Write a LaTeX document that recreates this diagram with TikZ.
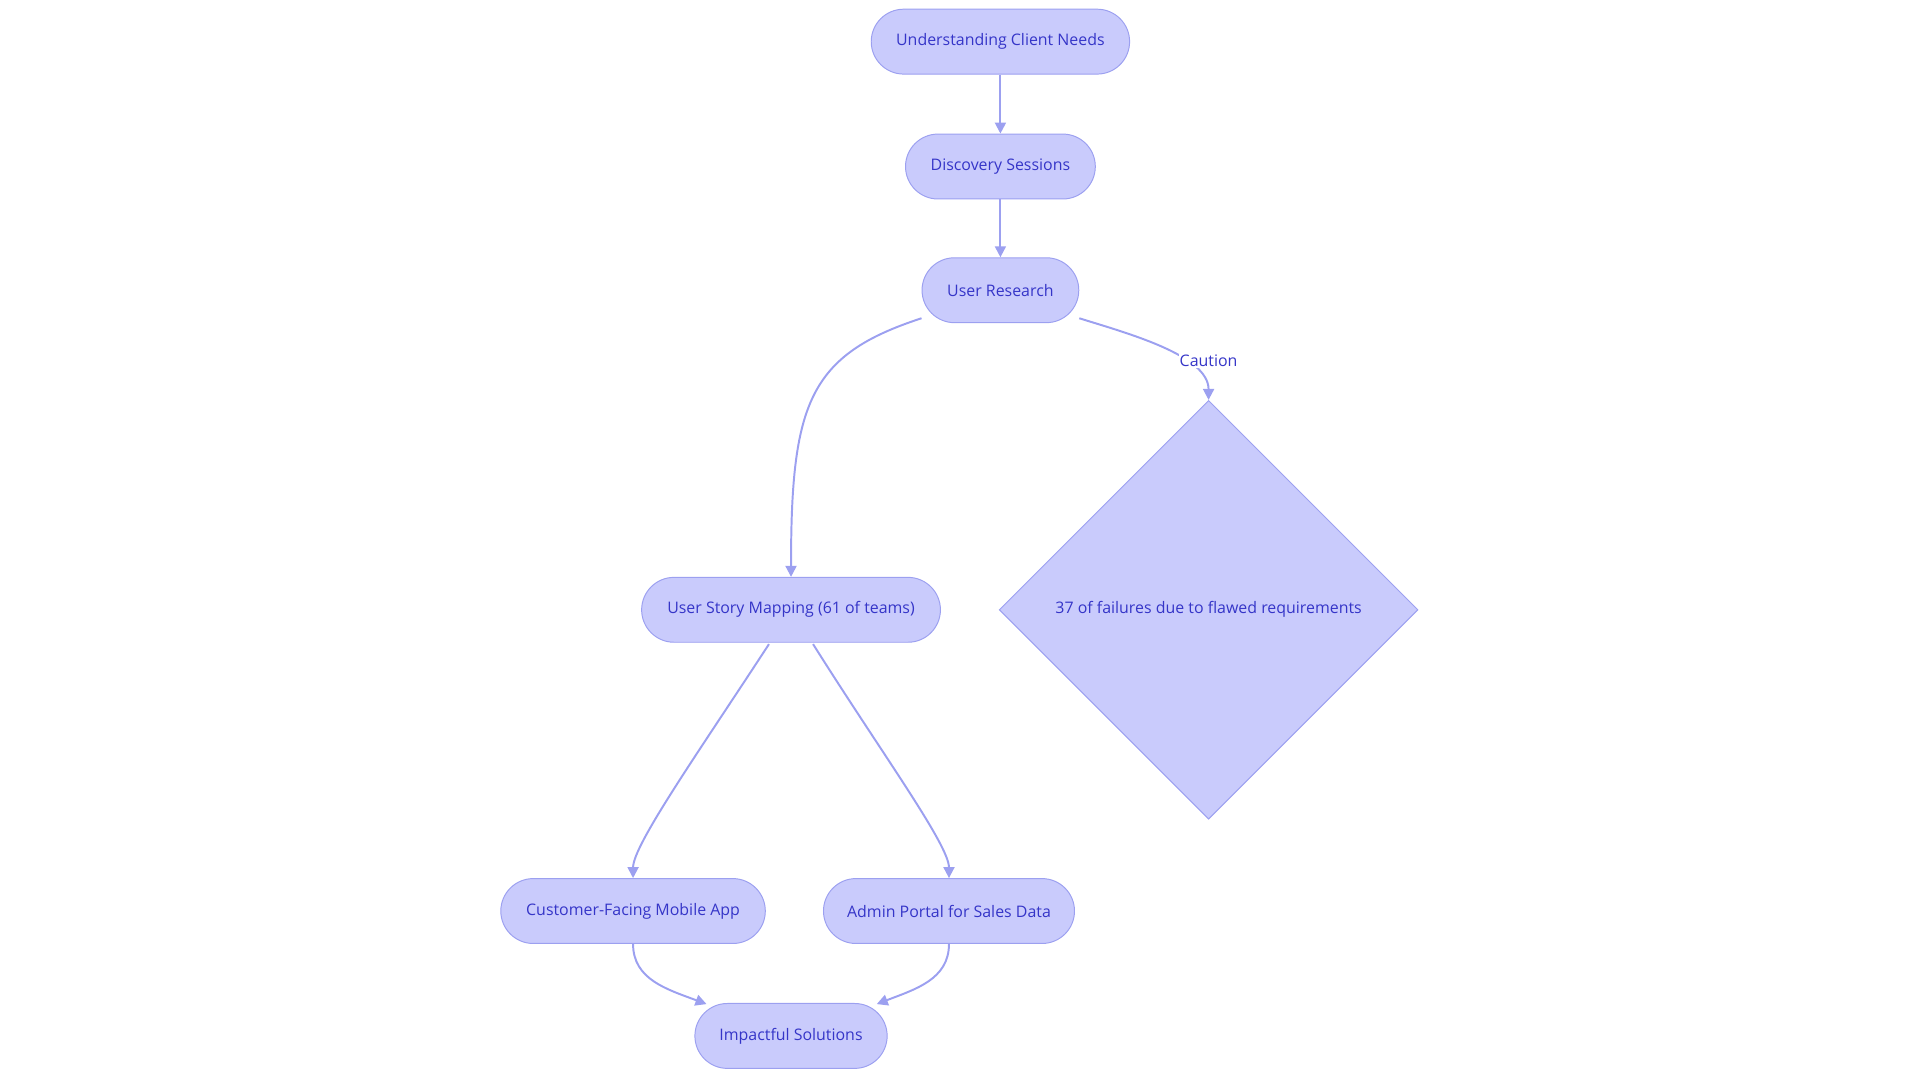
\documentclass[tikz,border=0pt]{standalone}
\usepackage{fontspec}
\setmainfont{Open Sans}
\usetikzlibrary{shapes.geometric,arrows.meta}
\definecolor{nfill}{HTML}{C9CBFC}
\definecolor{nline}{HTML}{9CA0F0}
\definecolor{ntext}{HTML}{3535C8}
\begin{document}
\begin{tikzpicture}[x=1pt,y=-1pt,
  box/.style={draw=nline,fill=nfill,line width=0.8pt,rounded corners=26.5pt,minimum height=53pt,inner sep=0pt,text=ntext,font=\fontsize{13}{15}\selectfont},
  dia/.style={draw=nline,fill=nfill,line width=0.8pt,diamond,minimum width=342pt,minimum height=342pt,inner sep=0pt,text=ntext,font=\fontsize{13}{15}\selectfont},
  edge/.style={draw=nline,line width=1.6pt,-{Triangle[length=9pt,width=9pt]}}]
\useasboundingbox (0,0) rectangle (1568,884.5);
\node[box,minimum width=211pt] (A) at (817,34) {Understanding Client Needs};
\node[box,minimum width=155pt] (B) at (817,136) {Discovery Sessions};
\node[box,minimum width=128pt] (C) at (817,237) {User Research};
\node[box,minimum width=244pt] (D) at (646,498) {User Story Mapping (61 of teams)};
\node[dia] (E) at (987,498) {37 of failures due to flawed requirements};
\node[box,minimum width=216pt] (F) at (517,744) {Customer-Facing Mobile App};
\node[box,minimum width=205pt] (G) at (775,744) {Admin Portal for Sales Data};
\node[box,minimum width=157pt] (H) at (646,846) {Impactful Solutions};
\draw[edge] (A) -- (B);
\draw[edge] (B) -- (C);
\draw[edge] (C.south west) ++(0,-4) .. controls (660,290) and (646,330) .. (D.north);
\draw[edge] (C.south east) ++(0,-4) .. controls (920,272) and (987,290) .. (E.north);
\node[fill=white,inner sep=1pt,text=ntext,font=\fontsize{13}{15}\selectfont] (L) at (987,295) {Caution};
\draw[edge] (628,526) .. controls (570,615) and (517,690) .. (F.north);
\draw[edge] (664,526) .. controls (720,615) and (775,690) .. (G.north);
\draw[edge] (F.south) .. controls (517,800) and (545,808) .. (577,820);
\draw[edge] (G.south) .. controls (775,800) and (747,808) .. (716,820);
\end{tikzpicture}
\end{document}
